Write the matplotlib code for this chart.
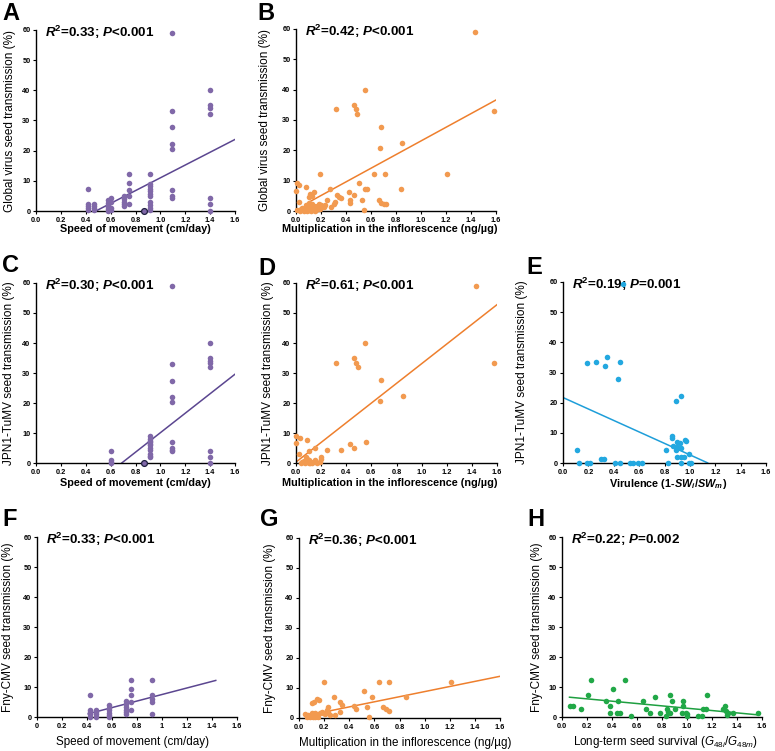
import numpy as np
import matplotlib
matplotlib.use("Agg")
import matplotlib.pyplot as plt

# ---- data ----
# A: speed of movement vs global virus seed transmission
a_x = [0.42, 0.42, 0.42, 0.42, 0.42,
       0.47, 0.47, 0.47, 0.47,
       0.58, 0.58, 0.58, 0.58, 0.58, 0.58,
       0.60, 0.60, 0.60, 0.60,
       0.71, 0.71, 0.71, 0.71, 0.71,
       0.75, 0.75, 0.75, 0.75, 0.75,
       0.92, 0.92, 0.92, 0.92, 0.92, 0.92, 0.92, 0.92, 0.92, 0.92, 0.92,
       1.09, 1.09, 1.09, 1.09, 1.09, 1.09, 1.09, 1.09,
       1.40, 1.40, 1.40, 1.40, 1.40, 1.40, 1.40]
a_y = [7.2, 2.3, 1.6, 0.9, 0.3,
       2.3, 1.6, 0.9, 0.3,
       3.5, 2.8, 2.0, 1.3, 0.6, 0.0,
       4.2, 3.0, 1.0, 0.3,
       5.0, 4.0, 3.0, 2.2, 1.5,
       12.2, 9.2, 7.0, 5.0, 2.4,
       12.2, 9.0, 8.2, 7.4, 6.6, 5.8, 5.0, 3.0, 2.0, 1.0, 0.2,
       59.0, 33.0, 27.7, 22.3, 20.6, 7.1, 5.0, 4.2,
       40.0, 35.0, 34.0, 32.0, 4.2, 2.2, 0.0]
a_fit = (21.2, -10.2)
a_fit_x = (0.48, 1.60)

# outlined point shared by A and C
ac_out_x = [0.87]
ac_out_y = [0.0]

# B: multiplication vs global virus seed transmission
b_x = [1.43, 1.58, 0.55, 0.46, 0.48, 0.49, 0.32, 0.68, 0.67, 0.85,
       0.19, 0.62, 0.71, 1.21, 0.50, 0.01, 0.02, 0.08, 0.00, 0.27, 0.55, 0.57, 0.84,
       0.14, 0.11, 0.13, 0.10, 0.33, 0.34, 0.42, 0.46, 0.25, 0.36,
       0.02, 0.53, 0.66, 0.68, 0.70, 0.72, 0.43, 0.43, 0.31, 0.30,
       0.54, 0.28,
       0.05, 0.07, 0.08, 0.09, 0.10, 0.11, 0.12, 0.13, 0.14, 0.15, 0.16, 0.17,
       0.18, 0.19, 0.20, 0.21, 0.06, 0.03, 0.01, 0.09, 0.12, 0.15, 0.04, 0.10,
       0.13, 0.18, 0.22, 0.23]
b_y = [59.0, 33.0, 40.0, 35.0, 33.5, 32.0, 33.5, 27.7, 20.7, 22.3,
       12.2, 12.2, 12.2, 12.2, 9.3, 9.3, 8.6, 8.0, 6.7, 7.2, 7.2, 7.2, 7.2,
       6.4, 5.6, 5.0, 4.5, 5.3, 4.5, 6.2, 5.3, 3.7, 4.3,
       3.1, 3.6, 3.6, 2.7, 2.2, 2.2, 3.6, 2.5, 3.1, 2.3,
       0.3, 1.2,
       1.0, 0.5, 2.0, 1.5, 0.3, 1.0, 2.0, 0.5, 1.5, 0.8, 0.2, 1.8,
       1.0, 0.5, 2.0, 1.5, 0.0, 0.0, 0.2, 0.0, 0.0, 0.0, 0.6, 2.6,
       2.4, 2.2, 1.2, 2.0]
b_fit = (22.5, 0.6)
b_fit_x = (0.12, 1.60)

# C: speed of movement vs JPN1-TuMV seed transmission
c_x = [0.60, 0.60, 0.60, 0.60,
       0.92, 0.92, 0.92, 0.92, 0.92, 0.92, 0.92, 0.92, 0.92, 0.92, 0.92,
       1.09, 1.09, 1.09, 1.09, 1.09, 1.09, 1.09, 1.09, 1.09,
       1.40, 1.40, 1.40, 1.40, 1.40, 1.40, 1.40, 1.40]
c_y = [4.0, 1.0, 0.5, 0.0,
       9.0, 8.0, 7.5, 7.0, 6.5, 6.0, 5.0, 4.5, 3.0, 2.5, 2.0,
       59.0, 33.0, 27.5, 22.0, 20.5, 7.0, 5.0, 4.5, 4.0,
       40.0, 35.0, 34.0, 33.5, 32.0, 4.0, 2.0, 0.0]
c_fit = (32.5, -22.4)
c_fit_x = (0.69, 1.60)

# D: multiplication vs JPN1-TuMV seed transmission
d_x = [1.43, 1.58, 0.55, 0.46, 0.48, 0.49, 0.32, 0.68, 0.67, 0.85,
       0.00, 0.03, 0.09, 0.00, 0.56, 0.43, 0.46, 0.36, 0.25, 0.10, 0.15, 0.02,
       0.08, 0.09, 0.10, 0.12, 0.05, 0.15, 0.16, 0.20, 0.20, 0.04, 0.07, 0.10,
       0.13, 0.17, 0.19, 0.06, 0.11]
d_y = [59.0, 33.3, 40.0, 35.0, 33.5, 32.0, 33.5, 27.7, 20.7, 22.2,
       9.1, 8.5, 7.8, 6.6, 7.1, 6.2, 5.1, 4.3, 4.2, 4.0, 5.0, 3.0,
       2.0, 1.5, 1.0, 0.5, 0.3, 1.0, 0.5, 2.0, 1.5, 0.0, 0.0, 0.0,
       0.0, 0.0, 0.5, 0.8, 0.0]
d_fit = (32.8, 0.3)
d_fit_x = (0.00, 1.60)

# E: virulence vs JPN1-TuMV seed transmission
e_x = [0.47, 0.19, 0.26, 0.35, 0.33, 0.45, 0.43, 0.93, 0.89,
       0.86, 0.86, 0.90, 0.92, 0.96, 0.97, 0.90, 0.93, 0.89, 0.81, 0.90, 0.93,
       0.95, 0.99, 0.87,
       0.11, 0.13, 0.19, 0.21, 0.30, 0.32, 0.41, 0.45, 0.53, 0.55, 0.59, 0.62,
       0.83, 0.93, 0.99, 1.01]
e_y = [59.5, 33.0, 33.5, 35.0, 32.0, 33.5, 28.0, 22.2, 20.7,
       9.0, 8.2, 6.9, 6.6, 7.7, 7.2, 5.2, 4.9, 4.4, 4.2, 2.0, 2.0,
       2.0, 3.1, 5.5,
       4.3, 0.0, 0.0, 0.0, 1.2, 1.2, 0.0, 0.0, 0.0, 0.0, 0.0, 0.0,
       0.0, 0.0, 0.0, 0.0]
e_fit = (-19.0, 21.7)
e_fit_x = (0.00, 1.14)

# F: speed of movement vs Fny-CMV seed transmission
f_x = [0.42, 0.42, 0.42, 0.42, 0.42,
       0.47, 0.47, 0.47, 0.47,
       0.58, 0.58, 0.58, 0.58, 0.58, 0.58,
       0.71, 0.71, 0.71, 0.71, 0.71, 0.71,
       0.75, 0.75, 0.75, 0.75, 0.75,
       0.92, 0.92, 0.92, 0.92, 0.92]
f_y = [7.2, 2.4, 1.7, 0.9, 0.0,
       2.4, 1.7, 0.9, 0.0,
       3.9, 3.1, 2.2, 1.4, 0.8, 0.0,
       5.2, 4.2, 3.3, 2.4, 1.7, 0.9,
       12.2, 9.2, 7.2, 5.0, 2.4,
       12.2, 7.2, 6.1, 5.0, 1.1]
f_fit = (10.9, -3.4)
f_fit_x = (0.41, 1.43)
f_ticklabels = ["0", "0.2", "0.4", "0.6", "0.8", "1", "1.2", "1.4", "1.6"]

# G: multiplication vs Fny-CMV seed transmission
g_x = [0.20, 0.64, 0.72, 1.21, 0.52, 0.28, 0.58, 0.85,
       0.14, 0.16, 0.10, 0.12, 0.33, 0.34, 0.44, 0.45, 0.54, 0.67, 0.69, 0.72,
       0.33, 0.29, 0.56, 0.23,
       0.05, 0.07, 0.10, 0.11, 0.13, 0.14, 0.15, 0.18, 0.19, 0.21, 0.22, 0.23,
       0.25, 0.09, 0.13, 0.06, 0.17]
g_y = [12.1, 12.1, 12.1, 12.1, 9.1, 7.1, 7.1, 7.1,
       6.2, 6.0, 5.0, 5.5, 5.2, 4.3, 4.0, 2.9, 3.8, 3.8, 2.9, 2.4,
       2.1, 1.0, 0.2, 3.8,
       1.2, 1.0, 1.6, 0.4, 1.8, 1.0, 0.4, 2.1, 1.6, 1.3, 2.7, 2.1,
       1.0, 0.2, 0.2, 0.2, 1.6]
g_fit = (8.5, 0.3)
g_fit_x = (0.05, 1.60)

# H: long-term seed survival vs Fny-CMV seed transmission
h_x = [0.06, 0.09, 0.15, 0.21, 0.23, 0.35, 0.38, 0.38, 0.41, 0.44, 0.46,
       0.45, 0.50, 0.55, 0.65, 0.67, 0.70, 0.74, 0.78, 0.83, 0.84, 0.85,
       0.86, 0.86, 0.88, 0.90, 0.97, 0.97, 0.96, 0.99, 1.00, 1.00, 1.09,
       1.12, 1.13, 1.15, 1.16, 1.29, 1.30, 1.31, 1.32, 1.33, 1.37, 1.57]
h_y = [3.8, 3.8, 2.6, 7.3, 12.3, 5.4, 3.8, 1.4, 9.4, 1.4, 1.4,
       5.4, 12.3, 0.3, 5.4, 2.6, 1.4, 6.6, 1.4, 0.3, 2.6, 1.8,
       7.3, 1.4, 5.4, 2.6, 3.8, 5.4, 1.4, 1.4, 1.0, 0.3, 0.3,
       0.3, 2.6, 2.6, 7.3, 2.6, 3.8, 2.0, 0.7, 1.4, 1.4, 1.4]
h_fit = (-3.9, 6.83)
h_fit_x = (0.06, 1.57)

# ---- styling ----
W, H = 775, 751
PURPLE, PURPLE_LINE = "#8068A8", "#5B4690"
ORANGE, ORANGE_LINE = "#F29A50", "#EE7F2D"
BLUE, BLUE_LINE = "#23A8E0", "#1E9ED9"
GREEN, GREEN_LINE = "#21A847", "#1E9F40"

plt.rcParams["font.family"] = ["Liberation Sans", "DejaVu Sans"]
plt.rcParams["mathtext.fontset"] = "custom"
plt.rcParams["mathtext.rm"] = "Liberation Sans"
plt.rcParams["mathtext.it"] = "Liberation Sans:italic"
plt.rcParams["mathtext.bf"] = "Liberation Sans:bold"
plt.rcParams["mathtext.bfit"] = "Liberation Sans:italic:bold"

fig = plt.figure(figsize=(W / 100, H / 100), dpi=100)


def fig_text(x, y, s, **kw):
    fig.text(x / W, 1 - y / H, s, **kw)


def panel(box, xs, ys, color, line_color, fit, fit_x, r2, letter, letter_xy,
          ylabel, ylabel_x, xlabel, xlabel_xy, xlabel_kw, ticklabels=None):
    x0, y0, x1, y1 = box
    ax = fig.add_axes([x0 / W, 1 - y1 / H, (x1 - x0) / W, (y1 - y0) / H])
    ax.plot(xs, ys, "o", color=color, markersize=4.0, markeredgewidth=0,
            clip_on=False, zorder=3)
    lx = np.array(fit_x)
    ax.plot(lx, fit[0] * lx + fit[1], "-", color=line_color, lw=1.1, zorder=2)
    ax.set_xlim(0, 1.6)
    ax.set_ylim(0, 60)
    ax.set_xticks(np.linspace(0, 1.6, 9))
    if ticklabels is None:
        ax.set_xticklabels([f"{v:.1f}" for v in np.linspace(0, 1.6, 9)])
    else:
        ax.set_xticklabels(ticklabels)
    ax.set_yticks([0, 10, 20, 30, 40, 50, 60])
    for side in ("top", "right"):
        ax.spines[side].set_visible(False)
    for side in ("left", "bottom"):
        ax.spines[side].set_linewidth(1.0)
    ax.tick_params(labelsize=5.3, length=2.5, width=0.8, pad=1.5)
    for lab in ax.get_xticklabels() + ax.get_yticklabels():
        lab.set_fontweight("bold")
    ax.text(0.045, 0.985, r2, transform=ax.transAxes, fontsize=9.6,
            fontweight="bold", va="center", ha="left", zorder=1)
    fig_text(letter_xy[0], letter_xy[1], letter, fontsize=17,
             fontweight="bold", ha="left", va="center")
    fig_text(ylabel_x, (y0 + y1) / 2, ylabel, fontsize=8.5, rotation=90,
             ha="center", va="center")
    fig_text(xlabel_xy[0], xlabel_xy[1], xlabel, ha="center", va="center",
             **xlabel_kw)
    return ax


top_lab = dict(fontsize=7.8, fontweight="bold")
bot_lab = dict(fontsize=8.4)
speed = "Speed of movement (cm/day)"
mult = "Multiplication in the inflorescence (ng/\u00b5g)"

axA = panel((36, 30, 235, 211), a_x, a_y, PURPLE, PURPLE_LINE, a_fit, a_fit_x,
            r"$\mathbfit{R}^{\mathbf{2}}$=0.33; $\mathbfit{P}$<0.001", "A", (2, 13),
            "Global virus seed transmission (%)", 10, speed, (135, 229), top_lab)
axA.plot(ac_out_x, ac_out_y, "o", color=PURPLE, markeredgecolor="#1f1f3f",
         markersize=4.2, markeredgewidth=0.9, clip_on=False, zorder=4)
panel((296, 29, 496, 211), b_x, b_y, ORANGE, ORANGE_LINE, b_fit, b_fit_x,
      r"$\mathbfit{R}^{\mathbf{2}}$=0.42; $\mathbfit{P}$<0.001", "B", (257, 13),
      "Global virus seed transmission (%)", 265, mult, (390, 229), top_lab)
axC = panel((36, 283, 235, 463), c_x, c_y, PURPLE, PURPLE_LINE, c_fit, c_fit_x,
            r"$\mathbfit{R}^{\mathbf{2}}$=0.30; $\mathbfit{P}$<0.001", "C", (2, 265),
            "JPN1-TuMV seed transmission (%)", 9, speed, (135, 483), top_lab)
axC.plot(ac_out_x, ac_out_y, "o", color=PURPLE, markeredgecolor="#1f1f3f",
         markersize=4.2, markeredgewidth=0.9, clip_on=False, zorder=4)
panel((296, 283, 497, 463), d_x, d_y, ORANGE, ORANGE_LINE, d_fit, d_fit_x,
      r"$\mathbfit{R}^{\mathbf{2}}$=0.61; $\mathbfit{P}$<0.001", "D", (258, 268),
      "JPN1-TuMV seed transmission (%)", 268, mult, (390, 483), top_lab)
panel((563, 282, 766, 463), e_x, e_y, BLUE, BLUE_LINE, e_fit, e_fit_x,
      r"$\mathbfit{R}^{\mathbf{2}}$=0.19; $\mathbfit{P}$=0.001", "E", (526, 267),
      "JPN1-TuMV seed transmission (%)", 522,
      r"Virulence (1-$\mathbfit{SW}_{\mathbfit{i}}$/$\mathbfit{SW}_{\mathbfit{m}}$)",
      (668, 484), top_lab)
panel((37, 537, 237, 717), f_x, f_y, PURPLE, PURPLE_LINE, f_fit, f_fit_x,
      r"$\mathbfit{R}^{\mathbf{2}}$=0.33; $\mathbfit{P}$<0.001", "F", (2, 520),
      "Fny-CMV seed transmission (%)", 8, speed, (133, 742), bot_lab,
      ticklabels=f_ticklabels)
panel((299, 538, 500, 718), g_x, g_y, ORANGE, ORANGE_LINE, g_fit, g_fit_x,
      r"$\mathbfit{R}^{\mathbf{2}}$=0.36; $\mathbfit{P}$<0.001", "G", (260, 520),
      "Fny-CMV seed transmission (%)", 270, mult, (405, 743), bot_lab)
panel((562, 537, 762, 717), h_x, h_y, GREEN, GREEN_LINE, h_fit, h_fit_x,
      r"$\mathbfit{R}^{\mathbf{2}}$=0.22; $\mathbfit{P}$=0.002", "H", (527, 520),
      "Fny-CMV seed transmission (%)", 537,
      r"Long-term seed survival ($\mathit{G}_{\mathit{48i}}$/$\mathit{G}_{\mathit{48m}}$)",
      (666, 742), bot_lab)

fig.savefig("out.png", dpi=100)
